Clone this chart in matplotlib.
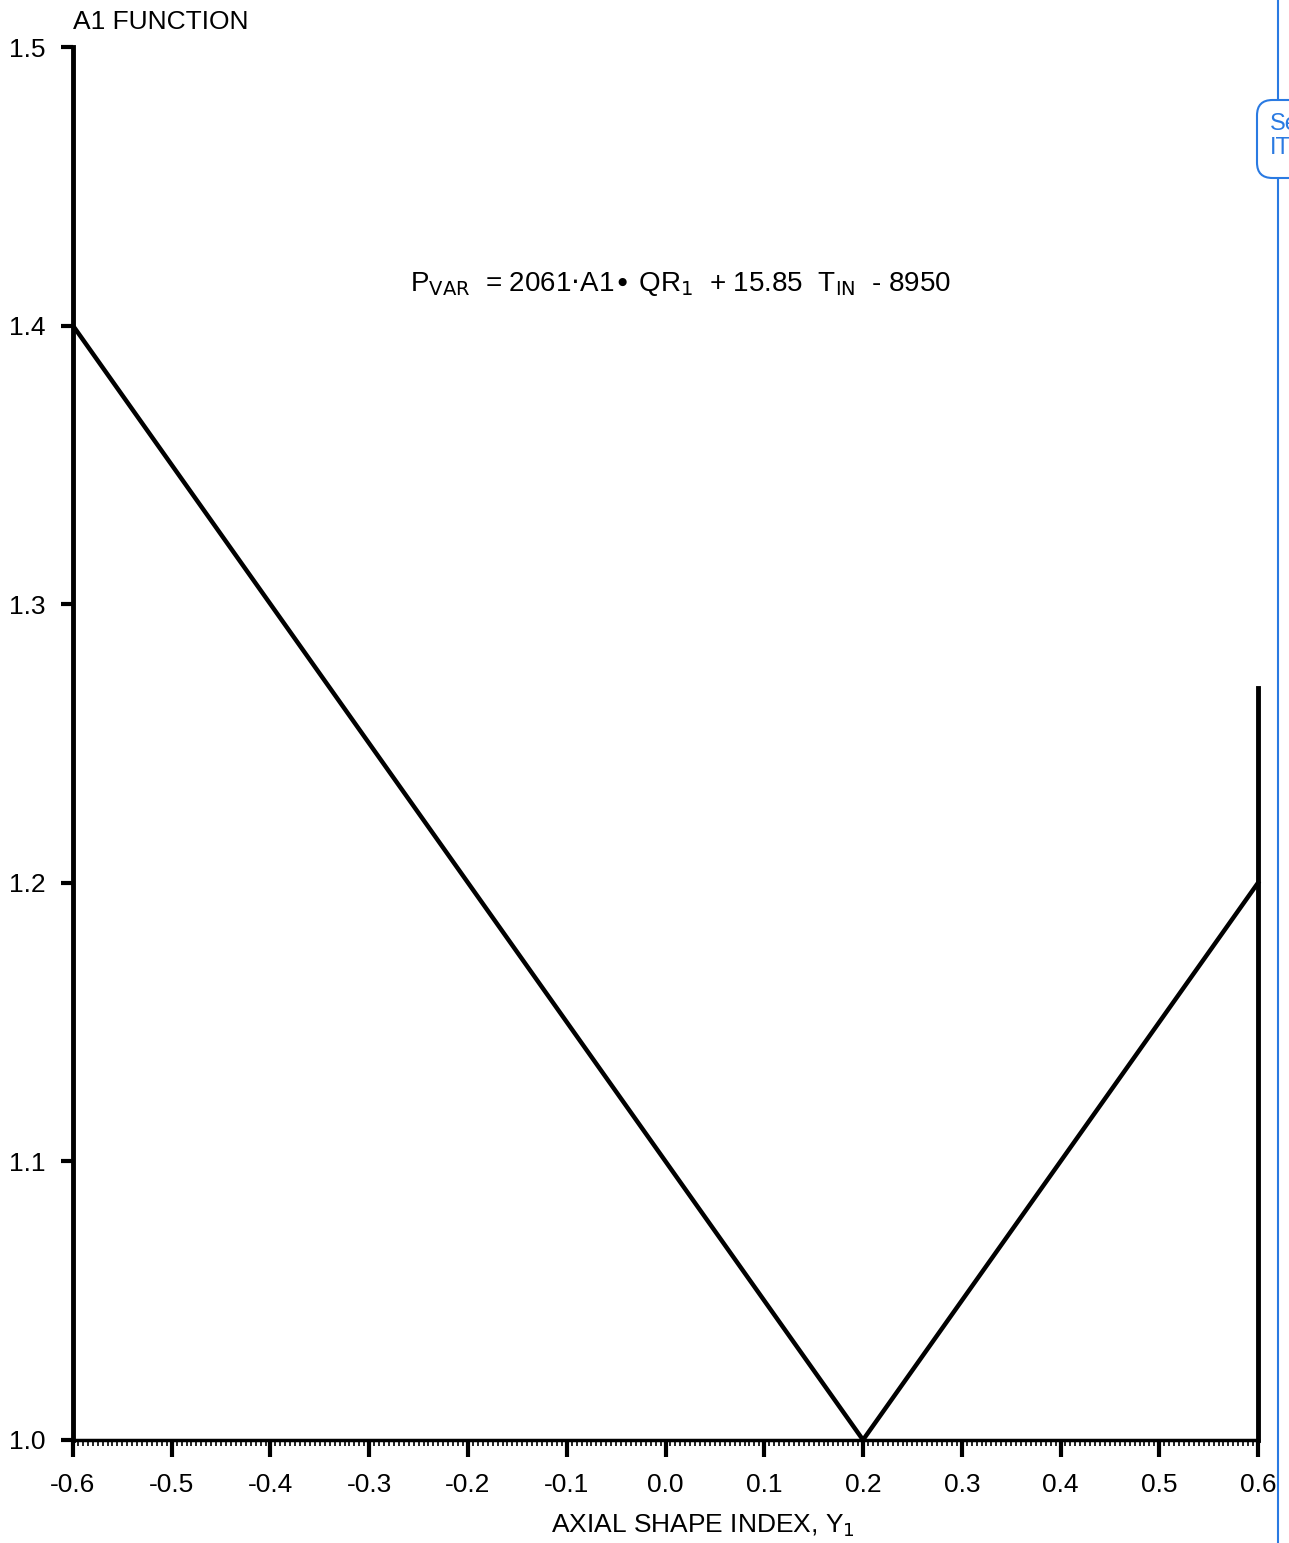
import numpy as np
import matplotlib.pyplot as plt
from matplotlib.patches import FancyBboxPatch

# A1 function vs axial shape index
asi = [-0.6, 0.2, 0.6]
a1 = [1.4, 1.0, 1.2]
# vertical limit line at right edge
edge_x = [0.6, 0.6]
edge_y = [1.0, 1.27]

x_ticks = [-0.6, -0.5, -0.4, -0.3, -0.2, -0.1, 0.0, 0.1, 0.2, 0.3, 0.4, 0.5, 0.6]
x_labels = ["-0.6", "-0.5", "-0.4", "-0.3", "-0.2", "-0.1", "0.0", "0.1",
            "0.2", "0.3", "0.4", "0.5", "0.6"]
y_ticks = [1.0, 1.1, 1.2, 1.3, 1.4, 1.5]
y_labels = ["1.0", "1.1", "1.2", "1.3", "1.4", "1.5"]

plt.rcParams['font.family'] = ['Liberation Sans', 'DejaVu Sans']
fs = 19

fig = plt.figure(figsize=(12.89, 15.43), dpi=100)
ax = fig.add_axes([0.0566, 0.0668, 0.9194, 0.9027])

ax.plot(asi, a1, color='black', lw=3.2, solid_joinstyle='miter', clip_on=False)
ax.plot(edge_x, edge_y, color='black', lw=3.5, clip_on=False)

ax.set_xlim(-0.6, 0.6)
ax.set_ylim(1.0, 1.5)
ax.spines['top'].set_visible(False)
ax.spines['right'].set_visible(False)
ax.spines['left'].set_linewidth(3.5)
ax.spines['bottom'].set_linewidth(2.5)

ax.set_xticks(x_ticks)
ax.set_xticklabels(x_labels)
ax.set_yticks(y_ticks)
ax.set_yticklabels(y_labels)
ax.set_xticks(np.arange(-0.6, 0.6001, 0.005), minor=True)
ax.tick_params(axis='x', which='major', direction='out', length=12, width=3,
               labelsize=fs, pad=12)
ax.tick_params(axis='x', which='minor', direction='out', length=4, width=1.2)
ax.tick_params(axis='y', which='major', direction='out', length=9, width=3,
               labelsize=fs, pad=11)

ax.set_xlabel("AXIAL SHAPE INDEX, Y$_1$", fontsize=fs)
ax.xaxis.set_label_coords(0.532, -0.052)

fig.text(0.057, 0.986, "A1 FUNCTION", fontsize=fs, ha='left', va='center')
ax.text(0.015, 1.415,
        r"P$_{\mathrm{VAR}}$  = 2061$\cdot$A1$\bullet$ QR$_1$  + 15.85  T$_{\mathrm{IN}}$  - 8950",
        fontsize=fs + 1, ha='center', va='center')

# blue side rule with tab
fig.add_artist(plt.Line2D([1278 / 1289, 1278 / 1289], [0, 1 - 180 / 1543],
                          color='#2a7ae2', lw=1.5))
fig.add_artist(plt.Line2D([1278 / 1289, 1278 / 1289], [1 - 98 / 1543, 1],
                          color='#2a7ae2', lw=1.5))
tab = FancyBboxPatch((1257 / 1289, 1 - 178 / 1543), 0.05, 78 / 1543,
                     boxstyle="round,pad=0,rounding_size=0.012",
                     transform=fig.transFigure, fill=False,
                     edgecolor='#2a7ae2', lw=1.5, mutation_aspect=1289 / 1543)
fig.add_artist(tab)
fig.text(1270 / 1289, 1 - 124 / 1543, "Se", color='#2a7ae2', fontsize=fs - 2,
         ha='left', va='center')
fig.text(1270 / 1289, 1 - 148 / 1543, "IT", color='#2a7ae2', fontsize=fs - 2,
         ha='left', va='center')

fig.savefig('out.png', dpi=100)
